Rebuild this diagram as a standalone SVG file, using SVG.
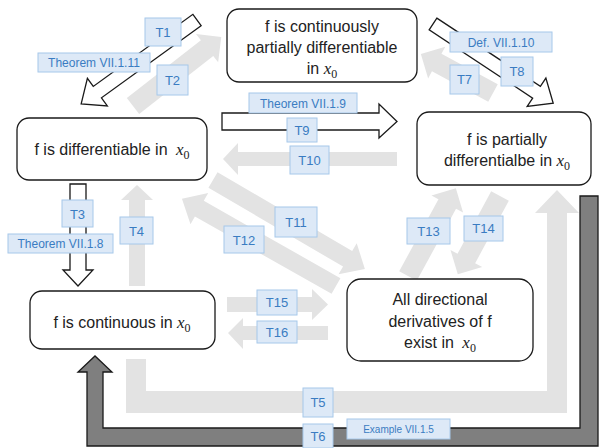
<svg xmlns="http://www.w3.org/2000/svg" width="601" height="448" viewBox="0 0 601 448">
<style>
.node rect{fill:#fff;stroke:#1a1a1a;stroke-width:1.3}
.nt{font-family:"Liberation Sans",Arial,sans-serif;font-size:16px;fill:#222;text-anchor:middle}
.mx{font-family:"Liberation Serif",serif;font-style:italic;font-size:17px}
.sub{font-family:"Liberation Serif",serif;font-size:12px}
.g{fill:#e3e3e3;stroke:none}
.o{fill:#fff;stroke:#1a1a1a;stroke-width:1.3}
.d{fill:#7f7f7f;stroke:#1a1a1a;stroke-width:1.3}
.lb rect{fill:#dde9f7;stroke:#a6c8ea;stroke-width:1}
.lb text{font-family:"Liberation Sans",Arial,sans-serif;fill:#3a7cc2;text-anchor:middle}
.t{font-size:13px}
.th{font-size:12px}
.ex{font-size:10px}
</style>
<g id="connectors">
  <path class="g" d="M126,359 L146,359 L146,391 L547,391 L547,213 L535,213 L557,190 L579,213 L567,213 L567,413 L126,413 Z"/>
  <path class="d" d="M87,446 L87,372 L78,372 L95,356 L112,372 L103,372 L103,428 L580,428 L580,196 L598,196 L598,446 Z"/>
  <polygon class="o" points="0,-7 123,-7 123,-17 143,0 123,17 123,7 0,7" transform="translate(197,20) rotate(144.1)"/>
  <polygon class="g" points="0,-10 94,-10 94,-18 112,0 94,18 94,10 0,10" transform="translate(133,106) rotate(-38)"/>
  <polygon class="g" points="0,-10 64,-10 64,-18 82,0 64,18 64,10 0,10" transform="translate(493,93) rotate(-151.6)"/>
  <polygon class="o" points="0,-7 124,-7 124,-17 144,0 124,17 124,7 0,7" transform="translate(433,24) rotate(33.4)"/>
  <polygon class="o" points="222,113 379,113 379,104 397,121.5 379,138 379,130 222,130"/>
  <polygon class="g" points="397,152 238,152 238,143 223,159 238,175 238,166 397,166"/>
  <polygon class="o" points="70,184 86,184 86,270 93,270 78,286 63,270 70,270"/>
  <polygon class="g" points="129,286 129,200 121,200 137,185 153,200 145,200 145,286"/>
  <polygon class="g" points="0,-9 156,-9 156,-18 176,0 156,18 156,9 0,9" transform="translate(213,180) rotate(30.35)"/>
  <polygon class="g" points="0,-9 157,-9 157,-18 177,0 157,18 157,9 0,9" transform="translate(336,286) rotate(-150.5)"/>
  <polygon class="g" points="0,-10 82,-10 82,-18 100,0 82,18 82,10 0,10" transform="translate(408,276) rotate(-61.4)"/>
  <polygon class="g" points="0,-10 71,-10 71,-18 89,0 71,18 71,10 0,10" transform="translate(500,196) rotate(118.3)"/>
  <polygon class="g" points="227,297 312,297 312,289 328,304.5 312,320 312,312 227,312"/>
  <polygon class="g" points="328,326 243,326 243,318 228,333 243,349 243,340 328,340"/>

  <g class="lb">
    <rect x="145" y="18" width="36" height="28"/><text class="t" x="163" y="37">T1</text>
    <rect x="38" y="53" width="112" height="19"/><text class="th" x="94" y="67">Theorem VII.1.11</text>
    <rect x="157" y="65" width="31" height="30"/><text class="t" x="172.5" y="85">T2</text>
    <rect x="450" y="32" width="102" height="20"/><text class="th" x="501" y="46.5">Def. VII.1.10</text>
    <rect x="501" y="57" width="32" height="29"/><text class="t" x="517" y="76">T8</text>
    <rect x="450" y="65" width="29" height="29"/><text class="t" x="464.5" y="84">T7</text>
    <rect x="249" y="93" width="108" height="20"/><text class="th" x="303" y="107.5">Theorem VII.1.9</text>
    <rect x="287" y="118" width="30" height="24"/><text class="t" x="302" y="135">T9</text>
    <rect x="290" y="146" width="39" height="28"/><text class="t" x="309.5" y="165">T10</text>
    <rect x="275" y="207" width="42" height="30"/><text class="t" x="296" y="227">T11</text>
    <rect x="224" y="226" width="40" height="27"/><text class="t" x="244" y="244.5">T12</text>
    <rect x="62" y="200" width="31" height="27"/><text class="t" x="77.5" y="218.5">T3</text>
    <rect x="8" y="234" width="105" height="19"/><text class="th" x="60.5" y="248">Theorem VII.1.8</text>
    <rect x="120" y="217" width="33" height="27"/><text class="t" x="136.5" y="235.5">T4</text>
    <rect x="407" y="218" width="43" height="26"/><text class="t" x="428.5" y="235.5">T13</text>
    <rect x="464" y="216" width="39" height="25"/><text class="t" x="483.5" y="233">T14</text>
    <rect x="257" y="290" width="40" height="25"/><text class="t" x="277" y="307">T15</text>
    <rect x="257" y="321" width="40" height="22"/><text class="t" x="277" y="337">T16</text>
    <rect x="303" y="388" width="30" height="29"/><text class="t" x="318" y="407">T5</text>
    <rect x="303" y="424" width="30" height="24"/><text class="t" x="318" y="441">T6</text>
    <rect x="347" y="419" width="103" height="20"/><text class="ex" x="398.5" y="432.5">Example VII.1.5</text>
  </g>
</g>

<g id="node-cont-part-diff" class="node">
  <rect x="227" y="9" width="190" height="73" rx="12"/>
  <text class="nt" x="322" y="31.5">f is continuously</text>
  <text class="nt" x="322" y="52.5">partially differentiable</text>
  <text class="nt" x="322" y="73.5">in <tspan class="mx">x</tspan><tspan class="sub" dy="4">0</tspan></text>
</g>
<g id="node-diff" class="node">
  <rect x="17" y="118" width="190" height="62" rx="12"/>
  <text class="nt" x="112" y="155">f is differentiable in <tspan class="mx" dx="4">x</tspan><tspan class="sub" dy="4">0</tspan></text>
</g>
<g id="node-part-diff" class="node">
  <rect x="417" y="112" width="174" height="73" rx="12"/>
  <text class="nt" x="507" y="145">f is partially</text>
  <text class="nt" x="507" y="166">differentialbe in <tspan class="mx">x</tspan><tspan class="sub" dy="4">0</tspan></text>
</g>
<g id="node-continuous" class="node">
  <rect x="30" y="291" width="185" height="58" rx="12"/>
  <text class="nt" x="122" y="328">f is continuous in <tspan class="mx">x</tspan><tspan class="sub" dy="4">0</tspan></text>
</g>
<g id="node-directional" class="node">
  <rect x="347" y="279" width="186" height="82" rx="14"/>
  <text class="nt" x="440" y="305">All directional</text>
  <text class="nt" x="440" y="327">derivatives of f</text>
  <text class="nt" x="440" y="348">exist in <tspan class="mx" dx="4">x</tspan><tspan class="sub" dy="4">0</tspan></text>
</g>
</svg>
